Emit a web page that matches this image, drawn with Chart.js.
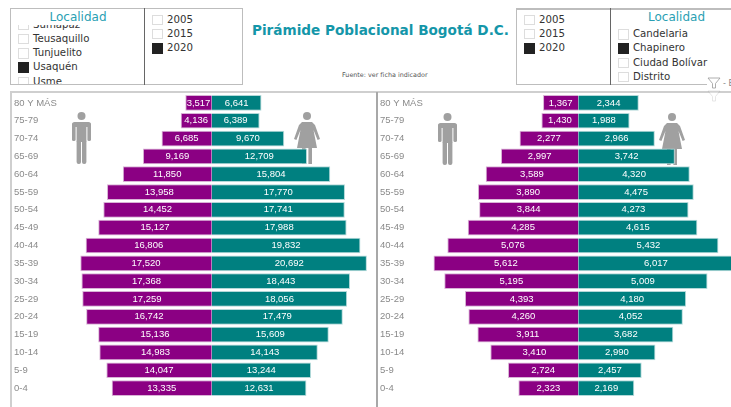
<!DOCTYPE html>
<html lang="es">
<head>
<meta charset="utf-8">
<title>Pirámide Poblacional Bogotá D.C.</title>
<script src="https://cdn.jsdelivr.net/npm/chart.js@4/dist/chart.umd.min.js"></script>
<style>
  html, body { margin: 0; padding: 0; background: #fff; overflow: hidden; }
  #page { position: relative; width: 731px; height: 407px; overflow: hidden; font-family: "DejaVu Sans", sans-serif; }
  .abs { position: absolute; }
  .slicer { position: absolute; top: 8px; height: 75px; border: 1px solid #bdbdbd; border-width: 1.5px; background: #fff; }
  .divider { position: absolute; top: 8px; height: 77px; width: 1px; background: #666; }
  .head { position: absolute; top: 8.5px; height: 17px; color: #2a9fb3; font-size: 12px; line-height: 17px; text-align: center; }
  .list { position: absolute; overflow: hidden; }
  .row { position: absolute; left: 0; height: 14px; font-size: 10.2px; line-height: 14px; color: #333; white-space: nowrap; padding-left: 15px; }
  .row::before { content: ""; position: absolute; left: 0; top: 2px; width: 8.5px; height: 8.5px; border: 1px solid #ddd; background: #fff; }
  .row.on::before { background: #222; border-color: #222; }
  #title { left: 252px; top: 21.5px; font-size: 13.6px; font-weight: bold; color: #1496a9; white-space: nowrap; }
  #source { left: 342px; top: 70.5px; font-size: 6.4px; color: #555; white-space: nowrap; }
  .frame { position: absolute; background: #cfcfcf; }
  canvas { position: absolute; }
</style>
</head>
<body>
<div id="page">
  <div class="slicer" style="left:10px; width:231px"></div>
  <div class="divider" style="left:144px"></div>
  <div class="head" style="left:12px; width:132px">Localidad</div>
  <div class="list" id="listA" style="left:18px; top:25px; width:124px; height:59px"></div>
  <div class="list" id="yearsA" style="left:152px; top:12.5px; width:80px; height:60px"></div>

  <div id="title" class="abs">Pirámide Poblacional Bogotá D.C.</div>
  <div id="source" class="abs">Fuente: ver ficha indicador</div>

  <div class="slicer" style="left:516px; width:190px; border-right:none"></div>
  <div class="abs" style="left:516px; top:8px; width:215px; height:1.5px; background:#bdbdbd"></div>
  <div class="divider" style="left:610px"></div>
  <div class="head" style="left:612px; width:129px">Localidad</div>
  <div class="list" id="listB" style="left:618px; top:27px; width:113px; height:57px"></div>
  <div class="list" id="yearsB" style="left:524px; top:12.5px; width:80px; height:60px"></div>

  <div class="frame" style="left:10px; top:91px; width:721px; height:2px"></div>
  <div class="frame" style="left:10px; top:91px; width:2px; height:316px"></div>
  <div class="frame" style="left:376px; top:92px; width:2px; height:315px; background:#a8a8a8"></div>

  <svg class="abs" style="left:0; top:0" width="731" height="407">
    <defs>
      <g id="man" fill="#a0a0a0">
        <circle cx="9.5" cy="4" r="4"/>
        <rect x="0" y="10" width="19" height="5" rx="2.5"/>
        <rect x="0" y="11" width="3.6" height="18" rx="1.6"/>
        <rect x="15.4" y="11" width="3.6" height="18" rx="1.6"/>
        <rect x="4.6" y="11" width="9.8" height="19"/>
        <rect x="4.6" y="28" width="4.4" height="24" rx="2"/>
        <rect x="10" y="28" width="4.4" height="24" rx="2"/>
      </g>
      <g id="woman" fill="#a0a0a0">
        <circle cx="13" cy="4" r="4"/>
        <path d="M8 10 H18 L21 13 L26 27 L23.6 28 L19.5 18 L23 36 H3 L6.5 18 L2.4 28 L0 27 L5 13 Z"/>
        <rect x="8" y="35" width="3.6" height="17"/>
        <rect x="14.4" y="35" width="3.6" height="17"/>
      </g>
      <path id="funnel" d="M0 0 H12 L7.5 5.5 V10 H4.5 V5.5 Z" fill="#fff" stroke="#999" stroke-width="0.8"/>
    </defs>
    <use href="#man" x="72" y="112"/>
    <use href="#woman" x="294" y="112"/>
    <use href="#man" x="438" y="113"/>
    <use href="#woman" x="659" y="113"/>
    <use href="#funnel" x="708" y="78"/>
    <use href="#funnel" x="708" y="91" opacity="0.3"/>
  </svg>
  <div class="abs" style="left:723px; top:79px; font-size:8px; color:#888; white-space:nowrap">- E</div>

  <canvas id="pyrLeft" width="365" height="313" style="left:12px; top:94px"></canvas>
  <canvas id="pyrRight" width="353" height="313" style="left:378px; top:94px"></canvas>
</div>

<script>
// ─── Data ───────────────────────────────────────────────────

const ageGroups = ['80 Y MÁS', '75-79', '70-74', '65-69', '60-64', '55-59', '50-54', '45-49', '40-44',
  '35-39', '30-34', '25-29', '20-24', '15-19', '10-14', '5-9', '0-4'];

const usaquenMen = [3517, 4136, 6685, 9169, 11850, 13958, 14452, 15127, 16806,
  17520, 17368, 17259, 16742, 15136, 14983, 14047, 13335];
const usaquenWomen = [6641, 6389, 9670, 12709, 15804, 17770, 17741, 17988, 19832,
  20692, 18443, 18056, 17479, 15609, 14143, 13244, 12631];

const chapineroMen = [1367, 1430, 2277, 2997, 3589, 3890, 3844, 4285, 5076,
  5612, 5195, 4393, 4260, 3911, 3410, 2724, 2323];
const chapineroWomen = [2344, 1988, 2966, 3742, 4320, 4475, 4273, 4615, 5432,
  6017, 5009, 4180, 4052, 3682, 2990, 2457, 2169];

const years = ['2005', '2015', '2020'];
const localidadesA = ['Sumapaz', 'Teusaquillo', 'Tunjuelito', 'Usaquén', 'Usme'];
const localidadesB = ['Candelaria', 'Chapinero', 'Ciudad Bolívar', 'Distrito'];

const MEN_COLOR = '#8b0083';
const WOMEN_COLOR = '#008080';

// ─── Slicers ────────────────────────────────────────────────

function fillList(id, items, selected, firstTop, step) {
  const box = document.getElementById(id);
  items.forEach((text, i) => {
    const row = document.createElement('div');
    row.className = 'row' + (text === selected ? ' on' : '');
    row.style.top = (firstTop + i * step) + 'px';
    row.textContent = text;
    box.appendChild(row);
  });
}

fillList('listA', localidadesA, 'Usaquén', -7.5, 14.3);
fillList('listB', localidadesB, 'Chapinero', 0, 14.3);
fillList('yearsA', years, '2020', 0, 14.3);
fillList('yearsB', years, '2020', 0, 14.3);

// ─── Bar labels ─────────────────────────────────────────────

const barLabels = {
  id: 'barLabels',
  afterDatasetsDraw(chart) {
    const ctx = chart.ctx;
    ctx.save();
    ctx.font = '9.5px "Liberation Sans", Arial, sans-serif';
    ctx.fillStyle = '#fff';
    ctx.textAlign = 'center';
    ctx.textBaseline = 'middle';
    chart.data.datasets.forEach((ds, d) => {
      chart.getDatasetMeta(d).data.forEach((bar, i) => {
        const value = Math.abs(ds.data[i]).toLocaleString('en-US');
        ctx.fillText(value, (bar.x + bar.base) / 2, bar.y);
      });
    });
    ctx.restore();
  },
};

// ─── Pyramids ───────────────────────────────────────────────

function renderPyramid(canvasId, men, women, xMin, xMax, axisWidth) {
  const barStyle = { borderWidth: 1, barPercentage: 0.9, categoryPercentage: 0.98 };
  return new Chart(document.getElementById(canvasId), {
    type: 'bar',
    data: {
      labels: ageGroups,
      datasets: [
        { label: 'Hombres', data: men.map(v => -v), backgroundColor: MEN_COLOR, borderColor: '#d9b3d6', ...barStyle },
        { label: 'Mujeres', data: women, backgroundColor: WOMEN_COLOR, borderColor: '#b3d9d9', ...barStyle },
      ],
    },
    options: {
      indexAxis: 'y',
      responsive: false,
      animation: false,
      layout: { padding: { left: 2, right: 0, top: 0, bottom: 10 } },
      plugins: { legend: { display: false }, tooltip: { enabled: false } },
      scales: {
        x: { stacked: true, display: false, min: xMin, max: xMax },
        y: {
          stacked: true,
          afterFit: scale => {
            scale.width = axisWidth;
            scale.paddingTop = 0;
            scale.paddingBottom = 0;
          },
          grid: { display: false },
          border: { display: false },
          ticks: {
            crossAlign: 'far',
            color: '#8a8a8a',
            padding: 0,
            autoSkip: false,
            font: { family: '"Liberation Sans", Arial, sans-serif', size: 9.5 },
          },
        },
      },
    },
    plugins: [barLabels],
  });
}

renderPyramid('pyrLeft', usaquenMen, usaquenWomen, -18627, 22040, 58);
renderPyramid('pyrRight', chapineroMen, chapineroWomen, -5826, 5919, 48);
</script>
</body>
</html>
